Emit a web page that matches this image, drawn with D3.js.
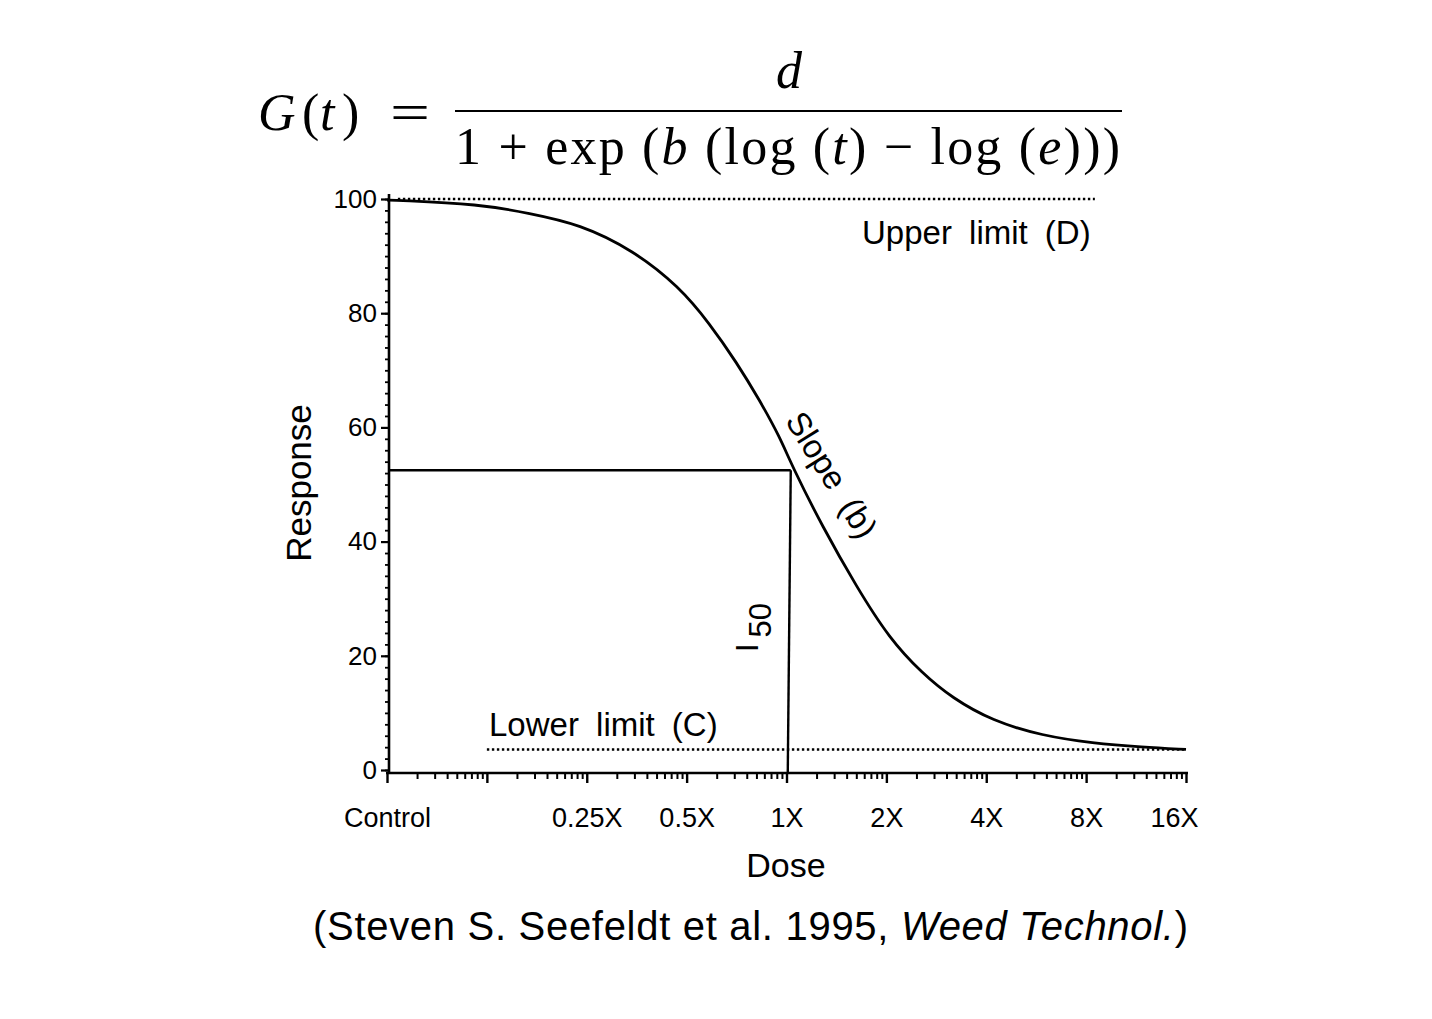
<!DOCTYPE html>
<html>
<head>
<meta charset="utf-8">
<script src="https://cdn.jsdelivr.net/npm/d3@7"></script>
<style>
  html, body { margin: 0; padding: 0; background: #fff; }
  svg { display: block; }
</style>
</head>
<body>
<svg id="chart" width="1432" height="1019"></svg>
<script>
// ---- data ----
const doses = [0.0625, 0.0674, 0.1187, 0.168, 0.238, 0.3437, 0.476, 0.586, 0.707, 0.829, 0.953, 1.042, 1.284, 1.625, 2.043, 2.567, 3.16, 4.17, 5.90, 8.36, 11.8, 16];
const responses = [99.8, 99.8, 99.1, 97.5, 95.6, 91.1, 84.6, 78.2, 71.4, 64.8, 58.4, 53.1, 42.6, 32.1, 23.0, 16.9, 12.6, 8.6, 6.0, 4.7, 4.0, 3.6];

const doseTicks = [0.0625, 0.125, 0.25, 0.5, 1, 2, 4, 8, 16];
const doseTickLabels = ["Control", "", "0.25X", "0.5X", "1X", "2X", "4X", "8X", "16X"];
const responseTicks = [0, 20, 40, 60, 80, 100];

const upperLimit = 100;         // D
const upperLimitDoses = [0.0674, 8.5];
const lowerLimit = 3.6;         // C
const lowerLimitDoses = [0.125, 16];
const i50Dose = 1.03;
const i50Response = 52.5;

// ---- scales ----
const svg = d3.select("#chart");
const x = d3.scaleLog().base(2).domain([0.0625, 16]).range([387, 1186]);
const y = d3.scaleLinear().domain([0, 100]).range([770, 199]);
const axisX = 389, axisY = 773;
const sans = "'Liberation Sans', Arial, Helvetica, sans-serif";
const serif = "'Liberation Serif', 'Times New Roman', serif";

// ---- formula ----
const f = svg.append("g").attr("font-family", serif).attr("font-size", 52).attr("fill", "#000");
f.append("text").attr("x", 258).attr("y", 130).attr("font-style", "italic").text("G");
f.append("text").attr("x", 302).attr("y", 130).text("(");
f.append("text").attr("x", 320).attr("y", 130).attr("font-style", "italic").text("t");
f.append("text").attr("x", 342).attr("y", 130).text(")");
f.append("text").attr("x", 390).attr("y", 130).attr("textLength", 40)
  .attr("lengthAdjust", "spacingAndGlyphs").text("=");
f.append("line").attr("x1", 455).attr("x2", 1122).attr("y1", 111).attr("y2", 111)
  .attr("stroke", "#000").attr("stroke-width", 2);
f.append("text").attr("x", 789).attr("y", 88).attr("text-anchor", "middle")
  .attr("font-style", "italic").text("d");
const den = f.append("text").attr("x", 455).attr("y", 164)
  .attr("textLength", 665).attr("lengthAdjust", "spacing");
den.append("tspan").text("1 + exp (");
den.append("tspan").attr("font-style", "italic").text("b");
den.append("tspan").text(" (log (");
den.append("tspan").attr("font-style", "italic").text("t");
den.append("tspan").text(") \u2212 log (");
den.append("tspan").attr("font-style", "italic").text("e");
den.append("tspan").text(")))");

// ---- axes ----
const gx = svg.append("g").attr("transform", `translate(0,${axisY})`);
// minor x ticks: log10-style subdivisions inside each doubling
const minorX = [];
for (let i = 0; i < doseTicks.length - 1; i++) {
  for (let k = 2; k <= 9; k++) minorX.push(doseTicks[i] * Math.pow(2, Math.log10(k)));
}
gx.call(d3.axisBottom(x).tickValues(minorX).tickSize(6).tickFormat(""))
  .call(g => g.select(".domain").remove())
  .call(g => g.selectAll("line").attr("stroke-width", 2));
const gxMaj = svg.append("g").attr("transform", `translate(0,${axisY})`);
gxMaj.call(d3.axisBottom(x).tickValues(doseTicks).tickSize(10).tickPadding(25)
    .tickFormat((d, i) => doseTickLabels[i]))
  .call(g => g.select(".domain").remove())
  .call(g => g.selectAll("line").attr("stroke-width", 2.4))
  .call(g => g.selectAll("text").attr("font-family", sans).attr("font-size", 27).attr("fill", "#000"))
  .call(g => g.selectAll("text").filter((d, i) => i === doseTicks.length - 1).attr("dx", -12));
svg.append("line").attr("x1", 386).attr("x2", 1188).attr("y1", axisY).attr("y2", axisY)
  .attr("stroke", "#000").attr("stroke-width", 2.6);

const gy = svg.append("g").attr("transform", `translate(${axisX},0)`);
gy.call(d3.axisLeft(y).tickValues(d3.range(0, 101, 2)).tickSize(4).tickFormat(""))
  .call(g => g.select(".domain").remove())
  .call(g => g.selectAll("line").attr("stroke-width", 1.8));
const gyMaj = svg.append("g").attr("transform", `translate(${axisX},0)`);
gyMaj.call(d3.axisLeft(y).tickValues(responseTicks).tickSize(8).tickPadding(4))
  .call(g => g.select(".domain").remove())
  .call(g => g.selectAll("line").attr("stroke-width", 2.2))
  .call(g => g.selectAll("text").attr("font-family", sans).attr("font-size", 26).attr("fill", "#000"));
svg.append("line").attr("x1", axisX).attr("x2", axisX).attr("y1", 194).attr("y2", axisY + 1)
  .attr("stroke", "#000").attr("stroke-width", 2.6);

// ---- axis titles ----
svg.append("text").attr("x", 786).attr("y", 877).attr("text-anchor", "middle")
  .attr("font-family", sans).attr("font-size", 34).text("Dose");
svg.append("text").attr("transform", "translate(311,483) rotate(-90)").attr("text-anchor", "middle")
  .attr("font-family", sans).attr("font-size", 35).text("Response");

// ---- limit lines ----
svg.append("line").attr("x1", x(upperLimitDoses[0])).attr("x2", x(upperLimitDoses[1]))
  .attr("y1", y(upperLimit)).attr("y2", y(upperLimit))
  .attr("stroke", "#000").attr("stroke-width", 2.6).attr("stroke-dasharray", "2.4,2.6");
svg.append("line").attr("x1", x(lowerLimitDoses[0])).attr("x2", x(lowerLimitDoses[1]))
  .attr("y1", y(lowerLimit)).attr("y2", y(lowerLimit))
  .attr("stroke", "#000").attr("stroke-width", 2.6).attr("stroke-dasharray", "2.4,2.6");

// ---- I50 guide lines ----
svg.append("line").attr("x1", axisX).attr("x2", x(i50Dose)).attr("y1", y(i50Response)).attr("y2", y(i50Response))
  .attr("stroke", "#000").attr("stroke-width", 2.4);
svg.append("line").attr("x1", x(i50Dose)).attr("x2", x(i50Dose) - 3).attr("y1", y(i50Response)).attr("y2", axisY)
  .attr("stroke", "#000").attr("stroke-width", 2.4);

// ---- curve ----
const pts = doses.map((d, i) => [d, responses[i]]);
svg.append("path").datum(pts)
  .attr("d", d3.line().x(d => x(d[0])).y(d => y(d[1])).curve(d3.curveBasis))
  .attr("fill", "none").attr("stroke", "#000").attr("stroke-width", 2.8);

// ---- annotations ----
svg.append("text").attr("x", 862).attr("y", 244).attr("font-family", sans).attr("font-size", 33)
  .attr("word-spacing", 8).text("Upper limit (D)");
svg.append("text").attr("x", 489).attr("y", 736).attr("font-family", sans).attr("font-size", 33)
  .attr("word-spacing", 8).text("Lower limit (C)");
svg.append("text").attr("transform", "translate(822,481) rotate(58)").attr("text-anchor", "middle")
  .attr("font-family", sans).attr("font-size", 33).attr("word-spacing", 8).text("Slope (b)");
const i50 = svg.append("text").attr("transform", "translate(758,652) rotate(-90)")
  .attr("font-family", sans).attr("font-size", 31);
i50.append("tspan").text("I");
i50.append("tspan").attr("dx", 6).attr("dy", 13).text("50");

// ---- caption ----
const cap = svg.append("text").attr("x", 313).attr("y", 940).attr("font-family", sans)
  .attr("font-size", 40).attr("letter-spacing", 0.7);
cap.append("tspan").text("(Steven S. Seefeldt et al. 1995, ");
cap.append("tspan").attr("font-style", "italic").text("Weed Technol.");
cap.append("tspan").text(")");
</script>
</body>
</html>
